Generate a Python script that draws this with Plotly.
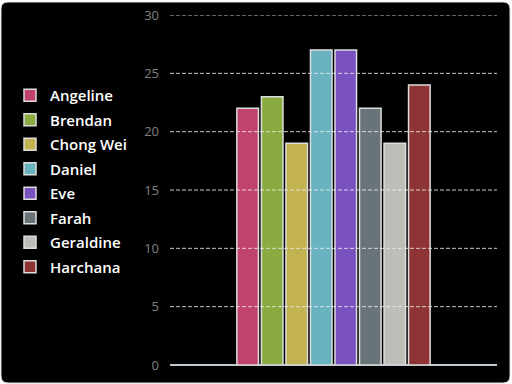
import plotly.graph_objects as go

names = ["Angeline", "Brendan", "Chong Wei", "Daniel", "Eve", "Farah", "Geraldine", "Harchana"]
values = [22, 23, 19, 27, 27, 22, 19, 24]
colors = ["#c0436d", "#8aab3f", "#c2b250", "#69b3c0", "#7a52c0", "#697479", "#bebeb8", "#8e3434"]
category = [""]
tick_vals = [0, 5, 10, 15, 20, 25, 30]

W, H = 512, 384
ml, mr, mt, mb = 170, 15, 15, 19
pw, ph = W - ml - mr, H - mt - mb

fig = go.Figure()
for i, (n, v, c) in enumerate(zip(names, values, colors)):
    fig.add_trace(go.Bar(
        x=category, y=[v], name=n, legendgroup=n,
        marker=dict(color=c, line=dict(color="#dddddd", width=1.5)),
    ))

def px2x(p):
    return (p - ml) / pw

def py2y(p):
    return (H - mb - p) / ph

# rounded black panel background
x0, x1, y0, y1, r = 1, 510, 2, 383, 7
path = (f"M {px2x(x0+r)} {py2y(y0)} L {px2x(x1-r)} {py2y(y0)} "
        f"Q {px2x(x1)} {py2y(y0)} {px2x(x1)} {py2y(y0+r)} "
        f"L {px2x(x1)} {py2y(y1-r)} Q {px2x(x1)} {py2y(y1)} {px2x(x1-r)} {py2y(y1)} "
        f"L {px2x(x0+r)} {py2y(y1)} Q {px2x(x0)} {py2y(y1)} {px2x(x0)} {py2y(y1-r)} "
        f"L {px2x(x0)} {py2y(y0+r)} Q {px2x(x0)} {py2y(y0)} {px2x(x0+r)} {py2y(y0)} Z")
shapes = [dict(type="path", xref="paper", yref="paper", path=path,
               fillcolor="black", line=dict(color="#dddddd", width=1), layer="below")]
for t in tick_vals[1:]:
    shapes.append(dict(type="line", xref="paper", yref="y", x0=0, x1=1, y0=t, y1=t,
                       line=dict(color="rgba(235,235,235,0.85)", width=1, dash="4px,2px"),
                       layer="above"))

fig.update_layout(
    width=W, height=H,
    margin=dict(l=ml, r=mr, t=mt, b=mb, autoexpand=False),
    paper_bgcolor="white", plot_bgcolor="rgba(0,0,0,0)",
    barmode="group", bargap=0.40, bargroupgap=0.12,
    shapes=shapes,
    font=dict(family="Open Sans, DejaVu Sans, sans-serif"),
    showlegend=True,
    legend=dict(x=px2x(10), y=py2y(79), xanchor="left", yanchor="top",
                font=dict(color="white", size=15, weight=600), tracegroupgap=2,
                bgcolor="rgba(0,0,0,0)"),
    xaxis=dict(showticklabels=False, showgrid=False, zeroline=False, showline=False),
    yaxis=dict(range=[0, 30], tickvals=tick_vals, showgrid=False,
               zeroline=True, zerolinecolor="#c0c8d0", zerolinewidth=2,
               tickfont=dict(color="#808080", size=13), ticks="", ticklabelstandoff=10,
               fixedrange=True),
)

fig.write_html("out.html", config={"displayModeBar": False},
               post_script="document.body.style.margin='0';document.body.style.overflow='hidden';")
